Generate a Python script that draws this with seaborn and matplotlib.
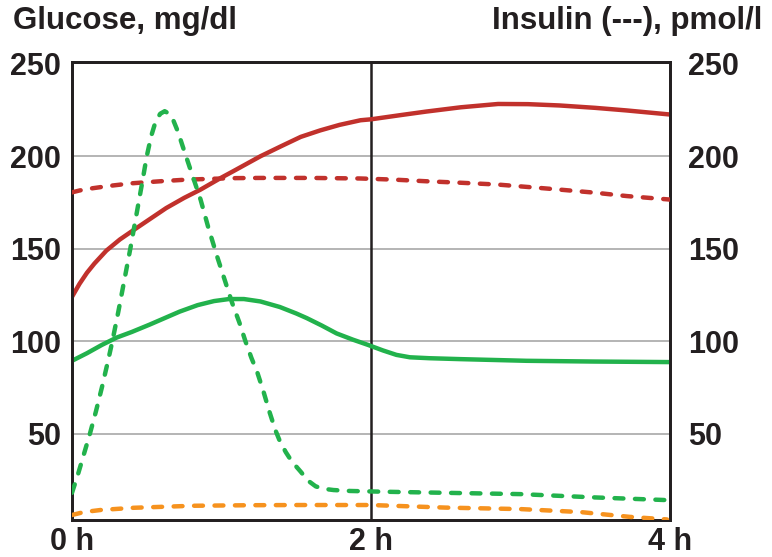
import matplotlib
matplotlib.use("Agg")
import matplotlib.pyplot as plt
import seaborn as sns

# ---- data (hours; glucose mg/dl, insulin pmol/l) ----
t_glu_high = [0, 0.05, 0.10, 0.15, 0.23, 0.32, 0.41, 0.52, 0.63, 0.75, 0.86, 1.0, 1.08, 1.26, 1.40,
              1.53, 1.66, 1.79, 1.93, 2.0, 2.2, 2.37, 2.6, 2.85, 3.05, 3.26, 3.5, 3.71, 4.0]
glu_high = [124, 131, 137, 142, 149, 155, 160, 166, 172, 177.5, 182, 188.5, 192, 200, 205.5,
            210.5, 214, 217, 219.5, 220, 222.3, 224.2, 226.5, 228.3, 228.2, 227.5, 226.2, 224.8, 222.6]

t_ins_high = [0, 0.05, 0.10, 0.18, 0.25, 0.40, 0.59, 0.75, 0.92, 1.10, 1.26, 1.60, 1.93, 2.15, 2.37,
              2.6, 2.85, 3.05, 3.26, 3.5, 3.71, 4.0]
ins_high = [180.5, 181.5, 182.3, 183.2, 184, 185.4, 186.5, 187.3, 187.8, 188.2, 188.3, 188.3, 188,
            187.4, 186.5, 185.7, 184.7, 183.4, 182, 180.3, 178.5, 176.6]

t_glu_norm = [0, 0.1, 0.2, 0.3, 0.4, 0.52, 0.62, 0.72, 0.84, 0.95, 1.05, 1.15, 1.26, 1.39, 1.5, 1.57,
              1.67, 1.77, 1.88, 1.98, 2.08, 2.17, 2.26, 2.39, 2.6, 3.04, 3.49, 4.0]
glu_norm = [89.4, 93.5, 98, 102, 105, 109, 112.5, 116, 119.5, 121.7, 122.8, 122.8, 121.5, 118.5, 115,
            112.5, 108.5, 104.2, 100.8, 98, 95, 92.6, 91.3, 90.8, 90.3, 89.4, 89, 88.7]

t_ins_norm = [0, 0.04, 0.08, 0.12, 0.16, 0.20, 0.24, 0.27, 0.31, 0.35, 0.39, 0.43, 0.47, 0.50, 0.53,
              0.56, 0.59, 0.62, 0.65, 0.68, 0.71, 0.74, 0.80, 0.86, 0.91, 0.97, 1.03, 1.07, 1.12,
              1.16, 1.20, 1.24, 1.28, 1.32, 1.36, 1.39, 1.43, 1.47, 1.53, 1.58, 1.63, 1.68, 1.75,
              1.86, 2.08, 2.5, 3.0, 3.5, 4.0]
ins_norm = [18, 28, 39, 50, 62, 75, 89, 100, 116, 133, 150, 168, 186, 200, 211,
            219, 223, 224.4, 223, 219, 213, 205.5, 191, 176.6, 162, 146, 131, 121, 110,
            100, 91, 83, 73, 62, 52, 46, 40, 35, 29.4, 24.5, 21.5, 20.2, 19.5,
            19, 18.6, 18, 17.3, 15.5, 14]

t_ins_low = [0, 0.08, 0.19, 0.41, 0.81, 1.2, 1.53, 2.0, 2.5, 3.0, 3.4, 3.73, 3.98]
ins_low = [6, 7.6, 8.7, 9.9, 11, 11.3, 11.4, 11.4, 10, 9.2, 7.6, 5, 3.6]

y_ticks = [50, 100, 150, 200, 250]
x_ticks = [0, 2, 4]
x_labels = ["0 h", "2 h", "4 h"]

RED = "#C1312C"
GREEN = "#22B24C"
ORANGE = "#F6921E"
INK = "#231F20"

sns.set_theme(style="white")
plt.rcParams['font.family'] = ['Liberation Sans', 'DejaVu Sans']
plt.rcParams['font.weight'] = 'bold'

fig = plt.figure(figsize=(7.72, 5.57), dpi=100)
ax = fig.add_axes([72 / 772, 1 - 520 / 557, 598 / 772, 458 / 557])
ax2 = ax.twinx()

LW = 3.2
dash = (0, (2.0, 2.6))

ax.axvline(2, color=INK, lw=1.8, zorder=1)

sns.lineplot(x=t_glu_high, y=glu_high, ax=ax, color=RED, lw=LW, estimator=None, sort=False,
             solid_capstyle="butt", solid_joinstyle="round", zorder=3)
sns.lineplot(x=t_glu_norm, y=glu_norm, ax=ax, color=GREEN, lw=LW, estimator=None, sort=False,
             solid_capstyle="butt", solid_joinstyle="round", zorder=3)

sns.lineplot(x=t_ins_high, y=ins_high, ax=ax2, color=RED, lw=LW, estimator=None, sort=False,
             linestyle=dash, dash_capstyle="round", dash_joinstyle="round", zorder=3)
sns.lineplot(x=t_ins_norm, y=ins_norm, ax=ax2, color=GREEN, lw=LW, estimator=None, sort=False,
             linestyle=dash, dash_capstyle="round", dash_joinstyle="round", zorder=3)
sns.lineplot(x=t_ins_low, y=ins_low, ax=ax2, color=ORANGE, lw=LW, estimator=None, sort=False,
             linestyle=dash, dash_capstyle="round", dash_joinstyle="round", zorder=3)

for a in (ax, ax2):
    a.set_xlim(0, 4)
    a.set_ylim(3.3, 251.0)
    a.set_yticks(y_ticks)
    a.set_xlabel("")
    a.set_ylabel("")
    for s in a.spines.values():
        s.set_color(INK)
        s.set_linewidth(2)
        s.set_visible(True)

ax.set_xticks(x_ticks)
ax.set_xticklabels(x_labels)
ax.tick_params(axis="x", length=0, pad=5, labelsize=22, labelcolor=INK)
ax.tick_params(axis="y", length=0, pad=8, labelsize=22, labelcolor=INK)
ax2.tick_params(axis="y", length=0, pad=13, labelsize=22, labelcolor=INK)
for lab in ax.get_xticklabels() + ax.get_yticklabels() + ax2.get_yticklabels():
    lab.set_fontweight("bold")

ax.yaxis.grid(True, color="#A8A8A8", lw=1.2, zorder=0)
ax.xaxis.grid(False)
ax2.grid(False)
ax.get_ygridlines()[-1].set_visible(False)

fig.text(13 / 772, 1 - 29 / 557, "Glucose, mg/dl", ha="left", va="baseline",
         fontsize=22.5, fontweight="bold", color=INK)
fig.text(762 / 772, 1 - 29 / 557, "Insulin (---), pmol/l", ha="right", va="baseline",
         fontsize=22.5, fontweight="bold", color=INK)

fig.savefig("out.png", dpi=100, facecolor="white")
